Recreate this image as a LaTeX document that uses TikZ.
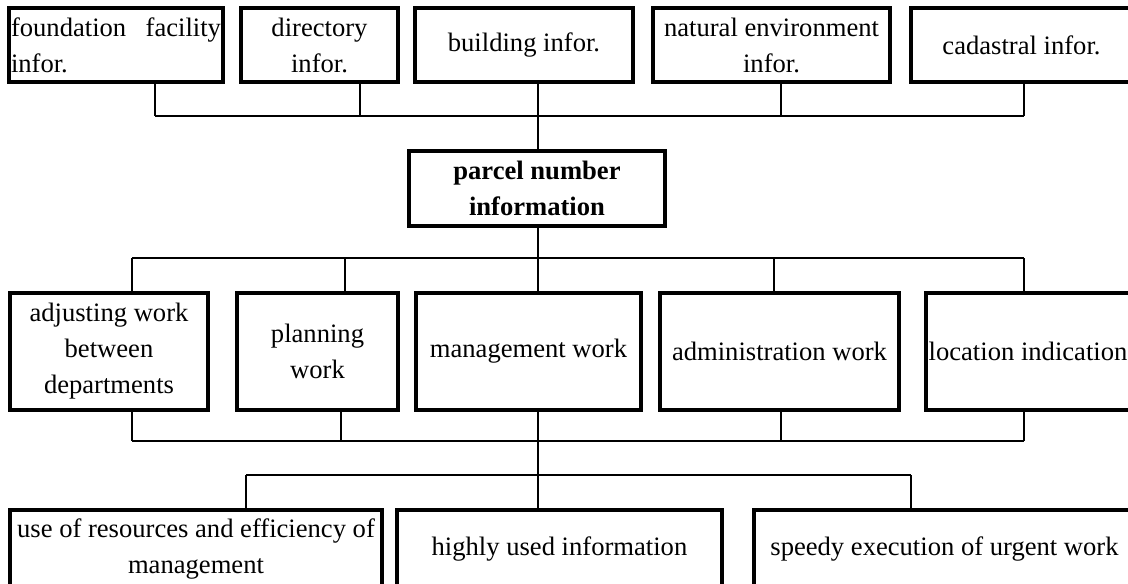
\documentclass[tikz,border=0pt]{standalone}
\usepackage{fontspec}
\setmainfont{Liberation Serif}
\newcommand{\boxfont}{\fontsize{26.6}{36}\selectfont}
\tikzset{
  infobox/.style={draw, line width=4pt, inner sep=1pt, align=center, font=\boxfont},
  link/.style={line width=2pt},
}
\begin{document}
\begin{tikzpicture}[x=1pt,y=-1pt]
\useasboundingbox (0,0) rectangle (1128,584);
\clip (0,0) rectangle (1128,584);
% information sources
\node[infobox, minimum width=214pt, minimum height=74pt, text width=210pt, align=left] (fnd) at (116,45) {foundation\hfill facility\\infor.};
\node[infobox, minimum width=157pt, minimum height=74pt] (dir) at (319.5,45) {directory\\infor.};
\node[infobox, minimum width=218pt, minimum height=74pt] (bld) at (524,45) {building infor.};
\node[infobox, minimum width=237pt, minimum height=74pt] (nat) at (771.5,45) {natural environment\\infor.};
\node[infobox, minimum width=221pt, minimum height=74pt] (cad) at (1021.5,45) {cadastral infor.};
% parcel number
\node[infobox, minimum width=256pt, minimum height=75pt, font=\boxfont\bfseries] (pcl) at (537,188.5) {parcel number\\information};
% works
\node[infobox, minimum width=198pt, minimum height=117pt] (adj) at (109,351.5) {adjusting work\\between\\departments};
\node[infobox, minimum width=161pt, minimum height=117pt] (pln) at (317.5,351.5) {planning\\work};
\node[infobox, minimum width=225pt, minimum height=117pt] (mgt) at (528.5,351.5) {management work};
\node[infobox, minimum width=239pt, minimum height=117pt] (adm) at (779.5,351.5) {administration work};
\node[infobox, minimum width=204pt, minimum height=117pt] (loc) at (1028,351.5) {location indication};
% effects
\node[infobox, minimum width=372pt, minimum height=78pt] (use) at (196,549) {use of resources and efficiency of\\management};
\node[infobox, minimum width=325pt, minimum height=78pt] (hgh) at (559.5,549) {highly used information};
\node[infobox, minimum width=381pt, minimum height=78pt] (spd) at (944.5,549) {speedy execution of urgent work};

% top bus
\foreach \n/\x in {fnd/155,dir/360,bld/538,nat/781,cad/1024}{
  \coordinate (top-\n) at (\x,116);
  \draw[link] (\n.south -| top-\n) -- (top-\n);
}
\draw[link] (top-fnd) -- (top-cad);
\draw[link] (top-bld) -- (pcl.north -| top-bld);

% upper bus of works
\foreach \n/\x in {adj/132,pln/345,mgt/538,adm/774,loc/1024}{
  \coordinate (up-\n) at (\x,258);
  \draw[link] (up-\n) -- (\n.north -| up-\n);
}
\draw[link] (up-adj) -- (up-loc);
\draw[link] (pcl.south -| up-mgt) -- (up-mgt);

% lower bus of works
\foreach \n/\x in {adj/132,pln/341,mgt/538,adm/781,loc/1024}{
  \coordinate (lo-\n) at (\x,441);
  \draw[link] (\n.south -| lo-\n) -- (lo-\n);
}
\draw[link] (lo-adj) -- (lo-loc);
\draw[link] (lo-mgt) -- (hgh.north -| lo-mgt);

% bus of effects
\foreach \n/\x in {use/246,spd/911}{
  \coordinate (bt-\n) at (\x,475);
  \draw[link] (bt-\n) -- (\n.north -| bt-\n);
}
\draw[link] (bt-use) -- (bt-spd);
\end{tikzpicture}
\end{document}
